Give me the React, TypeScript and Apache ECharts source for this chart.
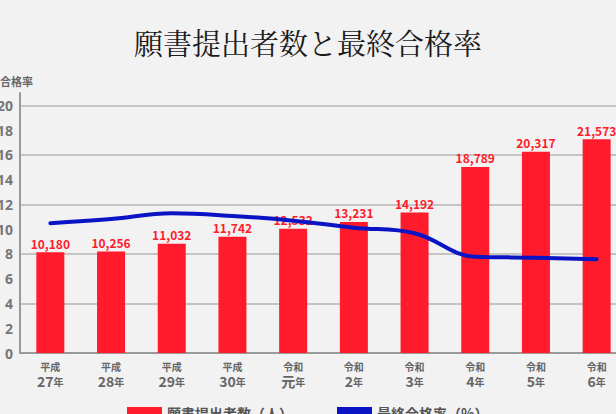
import React, { useEffect, useRef } from "react";
import * as echarts from "echarts";

const eras = ["平成", "平成", "平成", "平成", "令和", "令和", "令和", "令和", "令和", "令和"];
const years = ["27", "28", "29", "30", "元", "2", "3", "4", "5", "6"];
const applicants = [10180, 10256, 11032, 11742, 12532, 13231, 14192, 18789, 20317, 21573];
const passRate = [10.48, 10.82, 11.28, 11.07, 10.69, 10.12, 9.67, 7.78, 7.7, 7.57];
const seriesNames = ["願書提出者数（人）", "最終合格率（%）"];
const titleText = "願書提出者数と最終合格率";
const yAxisName = "合格率";

const categories = eras.map((e, i) => e + years[i] + "年");

const RED = "#ff1b2b";
const BLUE = "#0a14c4";
const JP = "'Noto Sans CJK JP', sans-serif";

export default function App() {
  const ref = useRef<HTMLDivElement>(null);
  useEffect(() => {
    if (!ref.current) return;
    document.body.style.margin = "0";
    document.body.style.background = "#f2f2f2";
    const chart = echarts.init(ref.current, undefined, { renderer: "svg" });
    const gridColors: string[] = [];
    for (let i = 0; i < 12; i++) gridColors.push(i % 2 === 0 && i < 11 ? "#b4b4b4" : "rgba(0,0,0,0)");
    chart.setOption({
      animation: false,
      backgroundColor: "#f2f2f2",
      title: {
        text: titleText,
        left: 129,
        top: 23,
        textStyle: {
          fontFamily: "'Noto Serif CJK JP', 'Noto Sans CJK JP', serif",
          fontSize: 29,
          fontWeight: "normal",
          color: "#1a1a1a",
        },
      },
      legend: {
        left: 127,
        top: 406,
        padding: 0,
        itemWidth: 35,
        itemHeight: 12,
        itemGap: 44,
        data: [
          { name: seriesNames[0], icon: "rect", itemStyle: { color: RED, borderWidth: 0 } },
          { name: seriesNames[1], icon: "rect", itemStyle: { color: BLUE, borderWidth: 0 } },
        ],
        textStyle: {
          fontFamily: JP,
          fontSize: 14,
          fontWeight: "bold",
          color: "#555",
        },
      },
      grid: { left: 20, right: 13, top: 93, bottom: 87, outerBoundsMode: "none", containLabel: false },
      xAxis: {
        type: "category",
        data: categories,
        boundaryGap: true,
        axisLine: { show: true, lineStyle: { color: "#9a9a9a", width: 2 } },
        axisTick: { show: false },
        axisLabel: {
          margin: 7,
          interval: 0,
          formatter: (_v: string, i: number) => `{era|${eras[i]}}\n{num|${years[i]}}{nen|年}`,
          rich: {
            era: { fontSize: 10, fontWeight: "bold", color: "#666", lineHeight: 13, fontFamily: JP },
            num: { fontSize: 14, fontWeight: "bold", color: "#666", lineHeight: 16, fontFamily: JP },
            nen: { fontSize: 10, fontWeight: "bold", color: "#666", lineHeight: 16, fontFamily: JP },
          },
        },
      },
      yAxis: [
        {
          type: "value",
          min: 0,
          max: 21,
          interval: 2,
          name: yAxisName,
          nameLocation: "end",
          nameGap: 7,
          nameTextStyle: {
            fontSize: 11,
            fontWeight: "bold",
            color: "#666",
            align: "right",
            padding: [0, -13, 0, 0],
            fontFamily: JP,
          },
          axisLine: { show: true, lineStyle: { color: "#9a9a9a", width: 2 } },
          axisTick: { show: false },
          axisLabel: {
            margin: 7,
            fontSize: 14,
            fontWeight: "bold",
            color: "#777",
            fontFamily: "'Noto Sans', sans-serif",
            formatter: (v: number) => (v % 2 === 0 ? String(v) : ""),
          },
          splitLine: {
            show: true,
            showMaxLine: false,
            lineStyle: { color: gridColors, width: 1.5 },
          },
        },
        {
          type: "value",
          min: 0,
          max: 26250,
          show: false,
          splitLine: { show: false },
        },
      ],
      series: [
        {
          name: seriesNames[0],
          type: "bar",
          yAxisIndex: 1,
          data: applicants,
          barWidth: 28,
          z: 2,
          itemStyle: { color: RED },
          label: {
            show: true,
            position: "top",
            distance: 3,
            color: RED,
            fontSize: 12,
            fontWeight: "bold",
            fontFamily: JP,
            formatter: (p: any) => Number(p.value).toLocaleString("en-US"),
          },
        },
        {
          name: seriesNames[1],
          type: "line",
          yAxisIndex: 0,
          data: passRate,
          smooth: 0.4,
          symbol: "none",
          z: 10,
          itemStyle: { color: BLUE },
          lineStyle: { color: BLUE, width: 4, cap: "round" },
        },
      ],
    });
    return () => chart.dispose();
  }, []);
  return (
    <div
      ref={ref}
      style={{ position: "fixed", left: 0, top: 0, width: 640, height: 440 }}
    />
  );
}
